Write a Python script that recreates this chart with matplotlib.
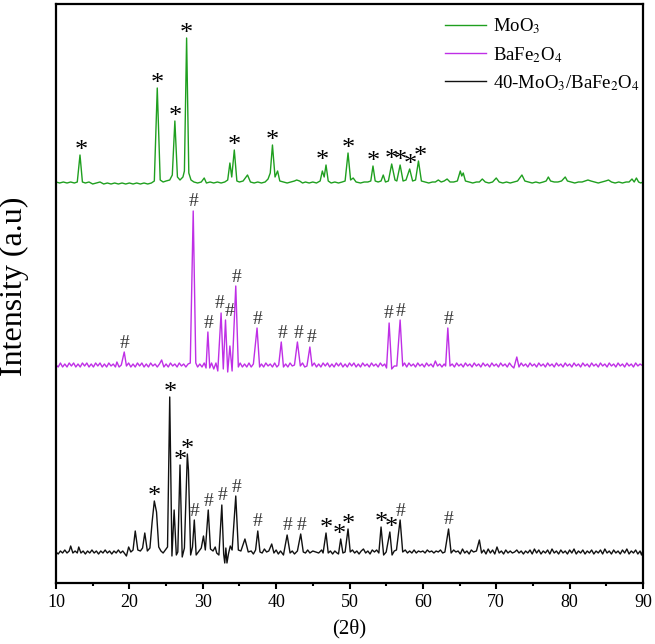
import numpy as np
import matplotlib
matplotlib.use("Agg")
from matplotlib import pyplot as plt

plt.rcParams['font.family'] = ['Liberation Serif', 'DejaVu Serif']
plt.rcParams['mathtext.fontset'] = 'stix'

# XRD patterns (2-theta in degrees, intensity in a.u.)
moo3_2t = [10.0, 10.5, 11.0, 11.5, 12.0, 12.5, 12.9, 13.27, 13.6, 14.0, 14.5, 15.0, 15.5, 16.0, 16.5, 17.0,
           17.5, 18.0, 18.5, 19.0, 19.5, 20.0, 20.5, 21.0, 21.5, 22.0, 22.5, 23.0, 23.4, 23.8, 24.2, 24.6,
           25.0, 25.5, 25.85, 26.2, 26.55, 26.9, 27.3, 27.5, 27.8, 28.1, 28.4, 28.8, 29.3, 29.8, 30.2, 30.5,
           31.0, 31.5, 32.0, 32.5, 33.0, 33.4, 33.7, 33.95, 34.3, 34.65, 35.0, 35.5, 36.1, 36.5, 37.0, 37.5,
           38.0, 38.5, 38.9, 39.2, 39.5, 39.85, 40.2, 40.5, 41.0, 41.5, 42.0, 42.5, 42.8, 43.2, 43.6, 44.0,
           44.5, 45.0, 45.5, 46.0, 46.3, 46.55, 46.8, 47.1, 47.5, 48.0, 48.5, 49.0, 49.4, 49.8, 50.15, 50.5,
           50.9, 51.5, 52.0, 52.5, 52.9, 53.2, 53.5, 53.9, 54.3, 54.6, 54.9, 55.3, 55.75, 56.2, 56.45, 56.9,
           57.3, 57.7, 58.2, 58.6, 59.0, 59.4, 59.8, 60.3, 60.8, 61.3, 61.7, 62.1, 62.5, 62.9, 63.3, 63.7,
           64.2, 64.7, 65.1, 65.3, 65.5, 65.8, 66.3, 66.8, 67.3, 67.7, 68.1, 68.5, 69.0, 69.5, 70.0, 70.4,
           70.9, 71.4, 71.9, 72.4, 72.9, 73.5, 73.9, 74.4, 74.9, 75.4, 75.9, 76.4, 76.8, 77.1, 77.4, 77.9,
           78.4, 78.9, 79.4, 79.7, 80.2, 80.7, 81.2, 81.7, 82.1, 82.5, 82.9, 83.4, 83.9, 84.4, 84.9, 85.3,
           85.7, 86.2, 86.7, 87.2, 87.7, 88.1, 88.5, 88.8, 89.1, 89.4, 89.7, 90.0]
moo3_int = [1, 0, 1, 0, 1, 0, 1, 28, 1, 0, 1, -1, 0, 1, -1, 0,
            -1, 0, -1, 0, -1, 0, -1, 0, -1, 0, -1, 0, 2, 95, 3, 1,
            2, 3, 8, 62, 6, 3, 6, 12, 145, 10, 3, 1, 0, 1, 5, 0,
            1, 0, 1, 0, 1, 3, 20, 6, 33, 2, 1, 2, 8, 1, 0, 1,
            0, 1, 4, 10, 38, 6, 12, 2, 1, 0, 1, 2, 3, 2, 0, 1,
            0, 1, 0, 2, 12, 6, 18, 2, 0, 1, 0, 1, 2, 30, 3, 5,
            1, 0, 1, 1, 2, 17, 2, 1, 2, 8, 1, 2, 19, 3, 2, 18,
            2, 3, 14, 2, 3, 22, 2, 1, 0, 1, 1, 3, 1, 2, 4, 1,
            1, 2, 12, 7, 10, 2, 1, 0, 1, 1, 4, 1, 0, 1, 5, 1,
            0, 1, 0, 1, 2, 8, 2, 1, 0, 1, 0, 1, 2, 6, 2, 1,
            1, 2, 6, 2, 1, 0, 1, 1, 2, 3, 2, 1, 0, 1, 2, 3,
            1, 0, 1, 0, 1, 1, 4, 1, 5, 1, 0, 1]

bfo_2t = [10.0, 10.3, 10.6, 10.9, 11.2, 11.5, 11.8, 12.1, 12.4, 12.7, 13.0, 13.3, 13.6, 13.9, 14.2, 14.5,
          14.8, 15.1, 15.4, 15.7, 16.0, 16.3, 16.6, 16.9, 17.2, 17.5, 17.8, 18.1, 18.3, 18.6, 18.9, 19.3,
          19.6, 19.9, 20.2, 20.5, 20.8, 21.1, 21.4, 21.7, 22.0, 22.3, 22.6, 22.9, 23.2, 23.5, 23.8, 24.1,
          24.4, 24.7, 25.0, 25.3, 25.6, 25.9, 26.2, 26.5, 26.8, 27.1, 27.4, 27.7, 28.0, 28.3, 28.7, 29.05,
          29.3, 29.6, 29.9, 30.2, 30.45, 30.7, 30.95, 31.2, 31.5, 31.8, 32.05, 32.5, 32.8, 33.1, 33.4, 33.7,
          34.0, 34.5, 34.85, 35.1, 35.4, 35.7, 36.0, 36.3, 36.6, 36.9, 37.4, 37.75, 38.0, 38.3, 38.6, 38.9,
          39.2, 39.5, 39.8, 40.1, 40.35, 40.7, 41.0, 41.3, 41.6, 41.9, 42.2, 42.5, 42.9, 43.3, 43.6, 43.9,
          44.2, 44.6, 44.9, 45.2, 45.5, 45.8, 46.1, 46.4, 46.7, 47.0, 47.3, 47.6, 47.9, 48.2, 48.5, 48.8,
          49.1, 49.4, 49.7, 50.0, 50.3, 50.6, 50.9, 51.2, 51.5, 51.8, 52.1, 52.4, 52.7, 53.0, 53.3, 53.6,
          53.9, 54.2, 54.5, 54.8, 55.05, 55.4, 55.75, 56.1, 56.45, 56.9, 57.25, 57.5, 57.8, 58.1, 58.4, 58.7,
          59.0, 59.3, 59.6, 59.9, 60.2, 60.5, 60.8, 61.1, 61.4, 61.7, 62.0, 62.3, 62.6, 62.9, 63.1, 63.4,
          63.7, 64.0, 64.3, 64.6, 64.9, 65.2, 65.5, 65.8, 66.1, 66.4, 66.7, 67.0, 67.3, 67.6, 67.9, 68.2,
          68.5, 68.8, 69.1, 69.4, 69.7, 70.0, 70.3, 70.6, 70.9, 71.2, 71.5, 71.8, 72.1, 72.4, 72.8, 73.1,
          73.4, 73.7, 74.0, 74.3, 74.6, 74.9, 75.2, 75.5, 75.8, 76.1, 76.4, 76.7, 77.0, 77.3, 77.6, 77.9,
          78.2, 78.5, 78.8, 79.1, 79.4, 79.7, 80.0, 80.3, 80.6, 80.9, 81.2, 81.5, 81.8, 82.1, 82.4, 82.7,
          83.0, 83.3, 83.6, 83.9, 84.2, 84.5, 84.8, 85.1, 85.4, 85.7, 86.0, 86.3, 86.6, 86.9, 87.2, 87.5,
          87.8, 88.1, 88.4, 88.7, 89.0, 89.3, 89.6, 90.0]
bfo_int = [0, -2, 2, -2, 1, -2, 2, -1, 2, -2, 1, -2, 2, -1, 2, -2,
           1, -2, 2, -1, 2, -2, 1, -2, 2, -1, 1, -2, 3, -2, 0, 13,
           -1, 2, -2, 1, -2, 2, -1, 2, -2, 1, -2, 2, -1, 1, -2, 1,
           5, -2, 1, -2, 2, -1, 1, -2, 2, -1, 1, -2, 1, 2, 154, 2,
           -2, 1, -2, 2, -3, 33, -3, 2, -4, 2, -6, 52, -4, 45, -7, 19,
           -6, 79, -2, 2, -2, 1, -2, 2, -2, 1, 37, -2, 1, -2, 2, -1,
           1, -2, 2, -2, 0, 23, -2, 1, -2, 2, -1, 0, 23, -1, 2, -2,
           -1, 18, -1, 2, -2, 1, -2, 2, -1, 2, -2, 1, -2, 2, -1, 2,
           -2, 1, -2, 2, -1, 2, -2, 1, -2, 2, -1, 1, -2, 2, -1, 1,
           -2, 2, -1, 1, -3, 42, -4, -1, -1, 45, -1, 2, -2, 2, -1, 1,
           -2, 2, -1, 1, -2, 2, -1, 1, -2, 4, -1, 1, -2, 1, -1, 37,
           -1, 1, -2, 2, -1, 1, -2, 2, -1, 1, -2, 2, -1, 1, -2, 2,
           -1, 1, -2, 2, -1, 1, -2, 2, -1, 1, -2, 2, -1, -3, 8, -2,
           2, -1, 1, -2, 2, -1, 1, -2, 2, -1, 1, -2, 2, -1, 1, -2,
           2, -1, 1, -2, 2, -1, 1, -2, 2, -1, 1, -2, 2, -1, 1, -2,
           2, -1, 1, -2, 2, -1, 1, -2, 2, -1, 1, -2, 2, -1, 1, -2,
           2, -1, 1, -2, 2, -1, 1, -1]

comp_2t = [10.0, 10.3, 10.6, 10.9, 11.2, 11.5, 11.8, 12.0, 12.3, 12.6, 12.9, 13.1, 13.4, 13.7, 14.0, 14.3,
           14.6, 14.9, 15.2, 15.5, 15.8, 16.1, 16.4, 16.7, 17.0, 17.3, 17.6, 17.9, 18.2, 18.5, 18.8, 19.1,
           19.4, 19.6, 19.9, 20.2, 20.5, 20.8, 21.15, 21.5, 21.8, 22.1, 22.45, 22.8, 23.1, 23.4, 23.7, 24.0,
           24.3, 24.6, 24.9, 25.2, 25.5, 25.8, 26.1, 26.4, 26.6, 26.9, 27.2, 27.5, 27.9, 28.05, 28.35, 28.6,
           28.85, 29.1, 29.4, 29.8, 30.1, 30.35, 30.75, 31.05, 31.4, 31.7, 31.9, 32.2, 32.6, 32.85, 33.0, 33.15,
           33.3, 33.5, 33.75, 34.0, 34.5, 34.85, 35.2, 35.75, 36.2, 36.6, 36.9, 37.2, 37.5, 37.8, 38.1, 38.4,
           38.7, 39.0, 39.4, 39.7, 40.0, 40.3, 40.6, 41.0, 41.5, 41.9, 42.2, 42.5, 42.9, 43.35, 43.7, 44.0,
           44.3, 44.6, 45.0, 45.4, 45.8, 46.2, 46.4, 46.8, 47.1, 47.4, 47.7, 48.0, 48.3, 48.5, 48.8, 49.1,
           49.4, 49.8, 50.1, 50.4, 50.7, 51.0, 51.3, 51.6, 51.9, 52.2, 52.5, 52.8, 53.1, 53.4, 53.7, 54.0,
           54.3, 54.65, 55.0, 55.5, 55.8, 56.1, 56.4, 56.9, 57.25, 57.6, 57.9, 58.2, 58.5, 58.8, 59.1, 59.4,
           59.7, 60.0, 60.3, 60.6, 60.9, 61.2, 61.5, 61.8, 62.1, 62.4, 62.7, 63.0, 63.5, 63.85, 64.2, 64.5,
           64.8, 65.1, 65.4, 65.7, 66.0, 66.3, 66.6, 66.9, 67.3, 67.7, 68.0, 68.3, 68.6, 68.9, 69.2, 69.5,
           69.8, 70.1, 70.4, 70.7, 71.0, 71.3, 71.6, 71.9, 72.2, 72.5, 72.8, 73.1, 73.4, 73.7, 74.0, 74.3,
           74.6, 74.9, 75.2, 75.5, 75.8, 76.1, 76.4, 76.7, 77.0, 77.3, 77.6, 77.9, 78.2, 78.5, 78.8, 79.1,
           79.4, 79.7, 80.0, 80.3, 80.6, 80.9, 81.2, 81.5, 81.8, 82.1, 82.4, 82.7, 83.0, 83.3, 83.6, 83.9,
           84.2, 84.5, 84.8, 85.1, 85.4, 85.7, 86.0, 86.3, 86.6, 86.9, 87.2, 87.5, 87.8, 88.1, 88.4, 88.7,
           89.0, 89.3, 89.6, 89.8, 90.0]
comp_int = [0, -2, 1, -1, 2, -1, 1, 6, -1, 1, -1, 5, -1, 1, -2, 1,
            -1, 2, -1, 1, -2, 1, -1, 2, -1, 1, -2, 1, -1, 2, -1, 1,
            -2, -4, 5, 0, 2, 21, 2, 1, 4, 19, 1, 4, 30, 51, 40, 5,
            1, -1, 2, 5, 155, -4, 42, -3, 0, 87, -5, 4, 98, 82, -3, 5,
            32, -3, 0, 4, 16, 2, 42, 3, 1, 5, -1, -3, 47, -2, -11, 4,
            -11, -2, 6, 2, 56, 2, 1, 13, 0, 1, -2, 2, 21, 0, -1, 3,
            0, 1, 8, -1, 2, -2, 1, -3, 17, -1, 1, -2, 1, 18, 0, -1,
            2, -1, 1, 0, -1, 2, -1, 19, -1, 1, -2, 1, -1, -2, 13, -1,
            0, 23, 0, 2, -1, 1, -2, 1, 3, -1, 1, -2, 2, 0, 2, -1,
            25, -3, 0, 20, -3, 1, 2, 32, 0, 2, -1, 1, -1, 2, -1, 1,
            0, 1, -1, 2, 0, 1, -1, 1, 0, 2, -1, 0, 23, -1, 2, 0,
            1, -2, 3, -1, 1, -2, 2, 0, 1, 12, -1, 2, -2, 3, -1, 2,
            -2, 5, -1, 1, -2, 2, -1, 1, -1, 0, 2, -1, 1, -2, 1, -1,
            2, -2, 3, -1, 2, -2, 1, -1, 2, -2, 3, -1, 1, -2, 2, -1,
            1, -2, 2, -1, 3, -2, 1, -1, 2, -2, 1, -1, 2, -2, 1, -1,
            2, -2, 3, -1, 1, -2, 2, -1, 1, -2, 2, -1, 3, -2, 1, -1,
            2, -2, 1, -3, 2]

# phase markers: * = MoO3, # = BaFe2O4
moo3_star = [13.45, 23.8, 26.2, 27.8, 34.3, 39.5, 46.3, 49.8, 53.2, 55.75, 56.9, 58.25, 59.6]
bfo_hash = [19.35, 28.75, 30.8, 32.35, 33.6, 34.65, 37.4, 40.85, 43.0, 44.85, 55.3, 56.9, 63.5]
comp_star = [23.4, 25.6, 26.95, 27.9, 46.9, 48.6, 49.8, 54.3, 55.7]
comp_hash = [28.9, 30.75, 32.7, 34.6, 37.5, 41.6, 43.4, 57.0, 63.55]

labels = ['MoO$_3$', 'BaFe$_2$O$_4$', '40-MoO$_3$/BaFe$_2$O$_4$']
colors = ['#1f9f1f', '#bf2fe6', '#111111']
offsets = [400, 218, 31]

fig = plt.figure(figsize=(6.55, 6.44), dpi=100)
ax = fig.add_axes([56/655, 61/644, 587/655, 579/644])

series = [(moo3_2t, moo3_int), (bfo_2t, bfo_int), (comp_2t, comp_int)]
for (tt, ii), lab, c, off in zip(series, labels, colors, offsets):
    ax.plot(tt, np.array(ii) + off, color=c, lw=1.0, label=lab)


def mark(tt, ii, off, where, sym, dy, size, col):
    tt = np.array(tt)
    ii = np.array(ii)
    for a in where:
        sel = (tt > a - 0.55) & (tt < a + 0.55)
        top = ii[sel].max() + off
        ax.text(a, top + dy, sym, ha='center', va='center', fontsize=size, color=col)


mark(moo3_2t, moo3_int, offsets[0], moo3_star, '*', 4, 19, 'black')
mark(bfo_2t, bfo_int, offsets[1], bfo_hash, '#', 9, 14, '#333333')
mark(comp_2t, comp_int, offsets[2], comp_star, '*', 4, 19, 'black')
mark(comp_2t, comp_int, offsets[2], comp_hash, '#', 9, 14, '#333333')

ax.set_xlim(10, 90)
ax.set_ylim(0, 579)
ax.set_xticks(np.arange(10, 91, 10))
ax.set_xticks(np.arange(15, 90, 10), minor=True)
ax.set_yticks([])
ax.tick_params(axis='x', which='major', length=4, width=1.5, labelsize=13, pad=4)
ax.tick_params(axis='x', which='minor', length=2.5, width=1.5)
for s in ax.spines.values():
    s.set_linewidth(1.6)

ax.set_xlabel('(2θ)', fontsize=15, labelpad=6)
ax.set_ylabel('Intensity (a.u)', fontsize=23)
ax.yaxis.set_label_coords(-0.046, 0.512)

ax.legend(loc='upper left', bbox_to_anchor=(0.663, 0.978), frameon=False, fontsize=13.5,
          handlelength=2.2, handletextpad=0.35, labelspacing=0.45, borderpad=0, borderaxespad=0)

fig.savefig('out.png', dpi=100)
